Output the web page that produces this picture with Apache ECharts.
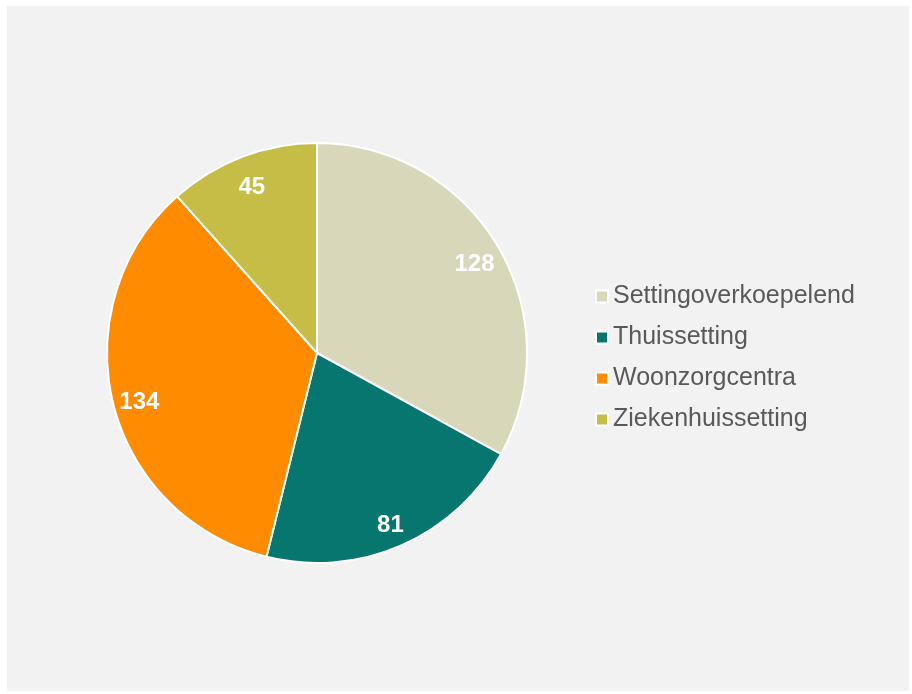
<!DOCTYPE html>
<html>
<head>
<meta charset="utf-8">
<script src="https://cdn.jsdelivr.net/npm/echarts@6/dist/echarts.min.js"></script>
<style>
  html, body { margin: 0; padding: 0; background: #ffffff; }
  #chart { position: absolute; left: 7px; top: 6px; width: 902px; height: 685px; background: #f2f2f2; }
</style>
</head>
<body>
<div id="chart"></div>
<script>
// data
var categories = ["Settingoverkoepelend", "Thuissetting", "Woonzorgcentra", "Ziekenhuissetting"];
var values = [128, 81, 134, 45];
var colors = ["#d9d7b9", "#06766f", "#ff8b00", "#c6bd46"];

var pieData = categories.map(function (name, i) {
  return { name: name, value: values[i], itemStyle: { color: colors[i] } };
});

var myChart = echarts.init(document.getElementById("chart"));
myChart.setOption({
  animation: false,
  legend: {
    orient: "vertical",
    left: 583,
    top: 273,
    itemWidth: 12,
    itemHeight: 12,
    itemGap: 16,
    icon: "rect",
    itemStyle: { borderColor: "#ffffff", borderWidth: 2 },
    textStyle: {
      fontFamily: "Liberation Sans, Arial, sans-serif",
      fontSize: 25,
      lineHeight: 24,
      color: "#595959"
    },
    data: categories
  },
  series: [
    {
      type: "pie",
      center: [310, 347],
      radius: [0, 210],
      startAngle: 90,
      clockwise: true,
      label: { show: false },
      labelLine: { show: false },
      itemStyle: { borderColor: "#ffffff", borderWidth: 2 },
      emphasis: { disabled: true },
      data: pieData
    },
    {
      // invisible ring, only used to place value labels
      type: "pie",
      center: [310, 352],
      radius: [150, 210],
      startAngle: 90,
      clockwise: true,
      silent: true,
      legendHoverLink: false,
      itemStyle: { color: "transparent", borderWidth: 0 },
      label: {
        show: true,
        position: "inside",
        formatter: "{c}",
        color: "#ffffff",
        fontWeight: "bold",
        fontSize: 24,
        fontFamily: "Liberation Sans, Arial, sans-serif"
      },
      labelLine: { show: false },
      emphasis: { disabled: true },
      data: categories.map(function (name, i) {
        return { name: name + " ", value: values[i] };
      })
    }
  ]
});
</script>
</body>
</html>
